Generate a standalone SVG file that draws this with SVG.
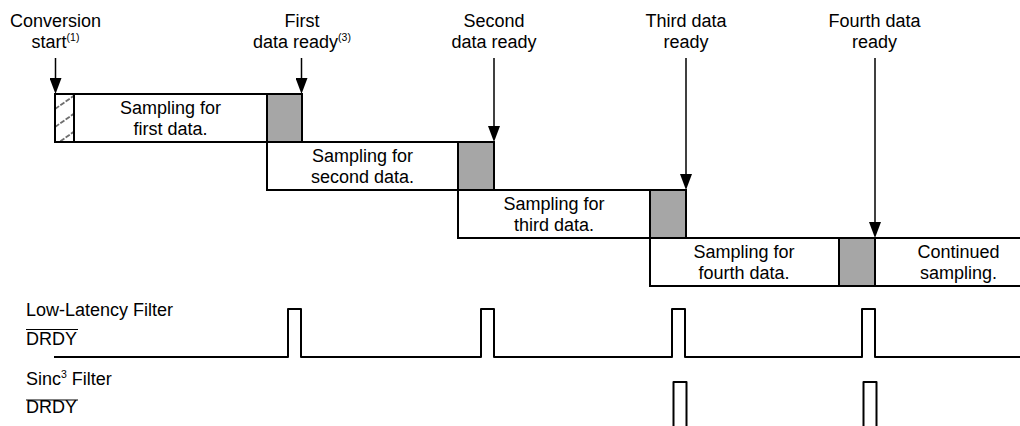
<svg xmlns="http://www.w3.org/2000/svg" width="1020" height="426" viewBox="0 0 1020 426">
<style>
  text { font-family: "Liberation Sans", Arial, sans-serif; font-size: 18px; fill: #000; }
  .mid { text-anchor: middle; }
  .sup { font-size: 10.5px; }
  .box { fill: #fff; stroke: #000; stroke-width: 2; }
  .busy { fill: #a6a6a6; stroke: #000; stroke-width: 2; }
  .arrow { stroke: #000; stroke-width: 1.5; fill: none; marker-end: url(#ah); }
  .wave { stroke: #000; stroke-width: 2; fill: none; stroke-linejoin: round; }
  .hatch { stroke: #6e6e6e; stroke-width: 1.8; stroke-dasharray: 5 1.5; }
</style>
<defs>
  <marker id="ah" markerUnits="userSpaceOnUse" markerWidth="16" markerHeight="12" refX="6" refY="6" orient="auto">
    <path d="M0,0 L16,6 L0,12 z" fill="#000"/>
  </marker>
  <clipPath id="hclip"><rect x="55" y="94" width="19" height="48"/></clipPath>
</defs>
<rect width="1020" height="426" fill="#fff"/>

<g id="row1">
  <rect class="box" x="55" y="94" width="247" height="48"/>
  <g clip-path="url(#hclip)">
    <line class="hatch" x1="55" y1="109" x2="75" y2="95"/>
    <line class="hatch" x1="55" y1="127" x2="75" y2="113"/>
    <line class="hatch" x1="55" y1="145" x2="75" y2="131"/>
  </g>
  <rect fill="none" stroke="#000" stroke-width="2" x="55" y="94" width="19" height="48"/>
  <rect class="busy" x="267" y="94" width="35" height="48"/>
  <text class="mid" x="170.5" y="113.5">Sampling for</text>
  <text class="mid" x="170.5" y="135">first data.</text>
</g>

<g id="row2">
  <rect class="box" x="267" y="142" width="227" height="48"/>
  <rect class="busy" x="458" y="142" width="36" height="48"/>
  <text class="mid" x="362.5" y="161.5">Sampling for</text>
  <text class="mid" x="362.5" y="183">second data.</text>
</g>

<g id="row3">
  <rect class="box" x="458" y="190" width="228" height="48"/>
  <rect class="busy" x="650" y="190" width="36" height="48"/>
  <text class="mid" x="554" y="209.5">Sampling for</text>
  <text class="mid" x="554" y="231">third data.</text>
</g>

<g id="row4">
  <rect class="box" x="650" y="238" width="400" height="48"/>
  <rect class="busy" x="839" y="238" width="36" height="48"/>
  <text class="mid" x="744" y="257.5">Sampling for</text>
  <text class="mid" x="744" y="279">fourth data.</text>
  <text class="mid" x="958.5" y="257.5">Continued</text>
  <text class="mid" x="958.5" y="279">sampling.</text>
</g>

<g id="label-start">
  <text class="mid" x="55.5" y="26.5">Conversion</text>
  <text class="mid" x="55.5" y="48">start<tspan class="sup" dy="-7.5">(1)</tspan></text>
</g>
<g id="label-first">
  <text class="mid" x="302" y="26.5">First</text>
  <text class="mid" x="302" y="48">data ready<tspan class="sup" dy="-7.5">(3)</tspan></text>
</g>
<g id="label-second">
  <text class="mid" x="494" y="26.5">Second</text>
  <text class="mid" x="494" y="48">data ready</text>
</g>
<g id="label-third">
  <text class="mid" x="686" y="26.5">Third data</text>
  <text class="mid" x="686" y="48">ready</text>
</g>
<g id="label-fourth">
  <text class="mid" x="874.5" y="26.5">Fourth data</text>
  <text class="mid" x="874.5" y="48">ready</text>
</g>

<g id="connectors">
  <line class="arrow" x1="55.5" y1="58" x2="55.5" y2="84"/>
  <line class="arrow" x1="301.5" y1="58" x2="301.5" y2="84"/>
  <line class="arrow" x1="494" y1="58" x2="494" y2="132"/>
  <line class="arrow" x1="686" y1="58" x2="686" y2="180"/>
  <line class="arrow" x1="875" y1="58" x2="875" y2="228"/>
</g>

<g id="low-latency">
  <text x="26" y="316">Low-Latency Filter</text>
  <text x="26" y="345">DRDY</text>
  <line x1="26" y1="329.5" x2="78" y2="329.5" stroke="#000" stroke-width="1.2"/>
  <path class="wave" d="M54,357 H288 V309 H301 V357 H481 V309 H494 V357 H672 V309 H685 V357 H862 V309 H875 V357 H1022"/>
</g>

<g id="sinc3">
  <text x="26" y="384.5">Sinc<tspan class="sup" dy="-7">3</tspan><tspan dy="7"> Filter</tspan></text>
  <text x="26" y="413">DRDY</text>
  <line x1="26" y1="400" x2="78" y2="400" stroke="#000" stroke-width="1.2"/>
  <path class="wave" d="M673.5,430 V382 H686.5 V430"/>
  <path class="wave" d="M863.5,430 V382 H876.5 V430"/>
</g>
</svg>
